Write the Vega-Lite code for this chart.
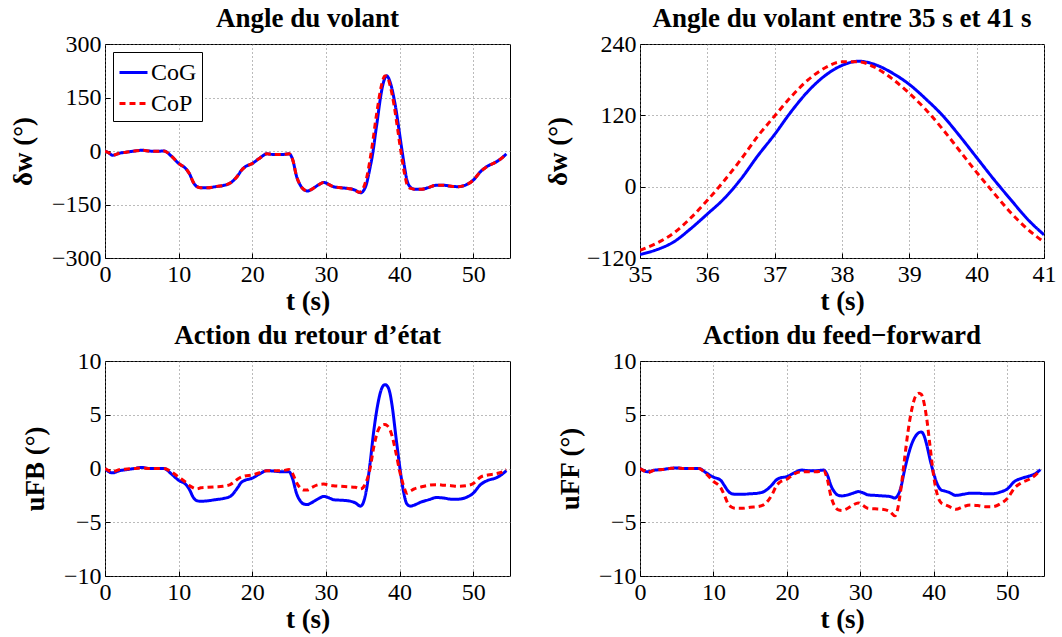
{
  "$schema": "https://vega.github.io/schema/vega-lite/v6.json",
  "background": "white",
  "padding": {"left": 8, "top": 4, "right": 12, "bottom": 2},
  "config": {
    "font": "Liberation Serif",
    "view": {"stroke": "black", "strokeWidth": 1},
    "axis": {
      "labelFont": "Liberation Serif", "labelFontSize": 24, "labelColor": "black",
      "titleFont": "Liberation Serif", "titleFontSize": 27, "titleFontWeight": "bold", "titleColor": "black",
      "grid": true, "gridColor": "#777777", "gridDash": [1, 3], "gridWidth": 1,
      "domain": false, "ticks": true, "tickSize": -5, "tickColor": "black",
      "labelPadding": 9, "labelFlush": false, "labelOverlap": false
    },
    "axisX": {"titlePadding": 2},
    "axisY": {"titlePadding": 14},
    "title": {"font": "Liberation Serif", "fontSize": 27, "fontWeight": "bold", "color": "black", "offset": -1}
  },
  "datasets": {
    "steer": [
      {"t":0,"s":"CoG","v":0},{"t":0.5,"s":"CoG","v":-5},{"t":1,"s":"CoG","v":-12},{"t":2,"s":"CoG","v":-6},{"t":3,"s":"CoG","v":-3},{"t":4,"s":"CoG","v":0},{"t":5,"s":"CoG","v":2},{"t":6,"s":"CoG","v":0},{"t":7,"s":"CoG","v":-1},{"t":8,"s":"CoG","v":0},{"t":9,"s":"CoG","v":-14},{"t":10,"s":"CoG","v":-35},{"t":11,"s":"CoG","v":-50},{"t":11.5,"s":"CoG","v":-65},{"t":12,"s":"CoG","v":-88},{"t":12.5,"s":"CoG","v":-100},{"t":13,"s":"CoG","v":-103},{"t":14,"s":"CoG","v":-103},{"t":15,"s":"CoG","v":-100},{"t":16,"s":"CoG","v":-97},{"t":17,"s":"CoG","v":-90},{"t":18,"s":"CoG","v":-70},{"t":18.5,"s":"CoG","v":-55},{"t":19,"s":"CoG","v":-45},{"t":20,"s":"CoG","v":-35},{"t":21,"s":"CoG","v":-20},{"t":22,"s":"CoG","v":-8},{"t":23,"s":"CoG","v":-10},{"t":24,"s":"CoG","v":-10},{"t":25,"s":"CoG","v":-8},{"t":25.5,"s":"CoG","v":-25},{"t":26,"s":"CoG","v":-70},{"t":26.5,"s":"CoG","v":-95},{"t":27,"s":"CoG","v":-108},{"t":27.5,"s":"CoG","v":-112},{"t":28,"s":"CoG","v":-108},{"t":29,"s":"CoG","v":-95},{"t":29.7,"s":"CoG","v":-88},{"t":30.5,"s":"CoG","v":-95},{"t":31,"s":"CoG","v":-100},{"t":32,"s":"CoG","v":-103},{"t":33,"s":"CoG","v":-105},{"t":34,"s":"CoG","v":-110},{"t":34.5,"s":"CoG","v":-116},{"t":34.8,"s":"CoG","v":-117},{"t":35,"s":"CoG","v":-114},{"t":35.25,"s":"CoG","v":-106},{"t":35.5,"s":"CoG","v":-93},{"t":35.75,"s":"CoG","v":-71},{"t":36,"s":"CoG","v":-46},{"t":36.25,"s":"CoG","v":-20},{"t":36.5,"s":"CoG","v":13},{"t":36.75,"s":"CoG","v":52},{"t":37,"s":"CoG","v":88},{"t":37.25,"s":"CoG","v":127},{"t":37.5,"s":"CoG","v":161},{"t":37.75,"s":"CoG","v":187},{"t":38,"s":"CoG","v":204},{"t":38.25,"s":"CoG","v":211},{"t":38.5,"s":"CoG","v":205},{"t":38.75,"s":"CoG","v":191},{"t":39,"s":"CoG","v":172},{"t":39.25,"s":"CoG","v":147},{"t":39.5,"s":"CoG","v":119},{"t":39.75,"s":"CoG","v":85},{"t":40,"s":"CoG","v":49},{"t":40.25,"s":"CoG","v":13},{"t":40.5,"s":"CoG","v":-21},{"t":40.75,"s":"CoG","v":-54},{"t":41,"s":"CoG","v":-81},{"t":41.5,"s":"CoG","v":-102},{"t":42,"s":"CoG","v":-107},{"t":43,"s":"CoG","v":-107},{"t":44,"s":"CoG","v":-102},{"t":45,"s":"CoG","v":-96},{"t":46,"s":"CoG","v":-96},{"t":47,"s":"CoG","v":-99},{"t":48,"s":"CoG","v":-100},{"t":49,"s":"CoG","v":-95},{"t":50,"s":"CoG","v":-82},{"t":51,"s":"CoG","v":-58},{"t":52,"s":"CoG","v":-42},{"t":53,"s":"CoG","v":-32},{"t":54,"s":"CoG","v":-18},{"t":54.5,"s":"CoG","v":-8},
      {"t":0,"s":"CoP","v":0},{"t":0.5,"s":"CoP","v":-5},{"t":1,"s":"CoP","v":-12},{"t":2,"s":"CoP","v":-6},{"t":3,"s":"CoP","v":-3},{"t":4,"s":"CoP","v":0},{"t":5,"s":"CoP","v":2},{"t":6,"s":"CoP","v":0},{"t":7,"s":"CoP","v":-1},{"t":8,"s":"CoP","v":0},{"t":9,"s":"CoP","v":-14},{"t":10,"s":"CoP","v":-35},{"t":11,"s":"CoP","v":-50},{"t":11.5,"s":"CoP","v":-65},{"t":12,"s":"CoP","v":-88},{"t":12.5,"s":"CoP","v":-100},{"t":13,"s":"CoP","v":-103},{"t":14,"s":"CoP","v":-103},{"t":15,"s":"CoP","v":-100},{"t":16,"s":"CoP","v":-97},{"t":17,"s":"CoP","v":-90},{"t":18,"s":"CoP","v":-70},{"t":18.5,"s":"CoP","v":-55},{"t":19,"s":"CoP","v":-45},{"t":20,"s":"CoP","v":-35},{"t":21,"s":"CoP","v":-20},{"t":22,"s":"CoP","v":-8},{"t":23,"s":"CoP","v":-10},{"t":24,"s":"CoP","v":-10},{"t":25,"s":"CoP","v":-8},{"t":25.5,"s":"CoP","v":-25},{"t":26,"s":"CoP","v":-70},{"t":26.5,"s":"CoP","v":-95},{"t":27,"s":"CoP","v":-108},{"t":27.5,"s":"CoP","v":-112},{"t":28,"s":"CoP","v":-108},{"t":29,"s":"CoP","v":-95},{"t":29.7,"s":"CoP","v":-88},{"t":30.5,"s":"CoP","v":-95},{"t":31,"s":"CoP","v":-100},{"t":32,"s":"CoP","v":-103},{"t":33,"s":"CoP","v":-105},{"t":34,"s":"CoP","v":-110},{"t":34.5,"s":"CoP","v":-116},{"t":34.8,"s":"CoP","v":-112},{"t":35,"s":"CoP","v":-107},{"t":35.25,"s":"CoP","v":-95},{"t":35.5,"s":"CoP","v":-78},{"t":35.75,"s":"CoP","v":-53},{"t":36,"s":"CoP","v":-23},{"t":36.25,"s":"CoP","v":10},{"t":36.5,"s":"CoP","v":46},{"t":36.75,"s":"CoP","v":85},{"t":37,"s":"CoP","v":119},{"t":37.25,"s":"CoP","v":152},{"t":37.5,"s":"CoP","v":180},{"t":37.75,"s":"CoP","v":200},{"t":38,"s":"CoP","v":210},{"t":38.25,"s":"CoP","v":210},{"t":38.5,"s":"CoP","v":200},{"t":38.75,"s":"CoP","v":181},{"t":39,"s":"CoP","v":157},{"t":39.25,"s":"CoP","v":129},{"t":39.5,"s":"CoP","v":96},{"t":39.75,"s":"CoP","v":60},{"t":40,"s":"CoP","v":24},{"t":40.25,"s":"CoP","v":-10},{"t":40.5,"s":"CoP","v":-43},{"t":40.75,"s":"CoP","v":-71},{"t":41,"s":"CoP","v":-93},{"t":41.5,"s":"CoP","v":-105},{"t":42,"s":"CoP","v":-107},{"t":43,"s":"CoP","v":-107},{"t":44,"s":"CoP","v":-102},{"t":45,"s":"CoP","v":-96},{"t":46,"s":"CoP","v":-96},{"t":47,"s":"CoP","v":-99},{"t":48,"s":"CoP","v":-100},{"t":49,"s":"CoP","v":-95},{"t":50,"s":"CoP","v":-82},{"t":51,"s":"CoP","v":-58},{"t":52,"s":"CoP","v":-42},{"t":53,"s":"CoP","v":-32},{"t":54,"s":"CoP","v":-18},{"t":54.5,"s":"CoP","v":-8}
    ],
    "act": [
      {"t":0,"s":"CoG","fb":0,"ff":0},{"t":0.5,"s":"CoG","fb":-0.3,"ff":-0.2},{"t":1,"s":"CoG","fb":-0.4,"ff":-0.3},{"t":2,"s":"CoG","fb":-0.2,"ff":-0.15},{"t":3,"s":"CoG","fb":-0.1,"ff":-0.1},{"t":4,"s":"CoG","fb":0,"ff":0},{"t":5,"s":"CoG","fb":0.1,"ff":0.05},{"t":6,"s":"CoG","fb":0,"ff":0},{"t":7,"s":"CoG","fb":0,"ff":0},{"t":8,"s":"CoG","fb":0,"ff":0},{"t":9,"s":"CoG","fb":-0.5,"ff":-0.4},{"t":10,"s":"CoG","fb":-1.1,"ff":-0.8},{"t":11,"s":"CoG","fb":-1.5,"ff":-1.1},{"t":11.5,"s":"CoG","fb":-2.0,"ff":-1.6},{"t":12,"s":"CoG","fb":-2.7,"ff":-2.1},{"t":12.5,"s":"CoG","fb":-3.0,"ff":-2.35},{"t":13,"s":"CoG","fb":-3.05,"ff":-2.4},{"t":14,"s":"CoG","fb":-3.0,"ff":-2.4},{"t":15,"s":"CoG","fb":-2.9,"ff":-2.35},{"t":16,"s":"CoG","fb":-2.8,"ff":-2.3},{"t":17,"s":"CoG","fb":-2.6,"ff":-2.1},{"t":18,"s":"CoG","fb":-1.8,"ff":-1.5},{"t":18.5,"s":"CoG","fb":-1.3,"ff":-1.1},{"t":19,"s":"CoG","fb":-1.1,"ff":-0.9},{"t":20,"s":"CoG","fb":-0.9,"ff":-0.75},{"t":21,"s":"CoG","fb":-0.5,"ff":-0.4},{"t":22,"s":"CoG","fb":-0.2,"ff":-0.15},{"t":23,"s":"CoG","fb":-0.25,"ff":-0.2},{"t":24,"s":"CoG","fb":-0.3,"ff":-0.2},{"t":25,"s":"CoG","fb":-0.3,"ff":-0.15},{"t":25.5,"s":"CoG","fb":-1.0,"ff":-0.6},{"t":26,"s":"CoG","fb":-2.3,"ff":-1.6},{"t":26.5,"s":"CoG","fb":-3.0,"ff":-2.2},{"t":27,"s":"CoG","fb":-3.3,"ff":-2.5},{"t":27.5,"s":"CoG","fb":-3.35,"ff":-2.55},{"t":28,"s":"CoG","fb":-3.2,"ff":-2.5},{"t":29,"s":"CoG","fb":-2.8,"ff":-2.3},{"t":29.7,"s":"CoG","fb":-2.6,"ff":-2.15},{"t":30.5,"s":"CoG","fb":-2.75,"ff":-2.3},{"t":31,"s":"CoG","fb":-2.9,"ff":-2.45},{"t":32,"s":"CoG","fb":-2.95,"ff":-2.5},{"t":33,"s":"CoG","fb":-3.0,"ff":-2.55},{"t":34,"s":"CoG","fb":-3.2,"ff":-2.6},{"t":34.7,"s":"CoG","fb":-3.5,"ff":-2.75},{"t":35,"s":"CoG","fb":-3.3,"ff":-2.6},{"t":35.5,"s":"CoG","fb":-2.0,"ff":-1.8},{"t":36,"s":"CoG","fb":0.5,"ff":-0.2},{"t":36.5,"s":"CoG","fb":3.5,"ff":1.2},{"t":37,"s":"CoG","fb":5.8,"ff":2.3},{"t":37.5,"s":"CoG","fb":7.3,"ff":3.0},{"t":38,"s":"CoG","fb":7.8,"ff":3.35},{"t":38.3,"s":"CoG","fb":7.7,"ff":3.4},{"t":38.7,"s":"CoG","fb":7.0,"ff":3.0},{"t":39,"s":"CoG","fb":5.8,"ff":2.3},{"t":39.5,"s":"CoG","fb":3.0,"ff":0.8},{"t":40,"s":"CoG","fb":0.3,"ff":-0.5},{"t":40.5,"s":"CoG","fb":-2.0,"ff":-1.5},{"t":41,"s":"CoG","fb":-3.3,"ff":-2.0},{"t":41.5,"s":"CoG","fb":-3.5,"ff":-2.1},{"t":42,"s":"CoG","fb":-3.4,"ff":-2.2},{"t":43,"s":"CoG","fb":-3.1,"ff":-2.5},{"t":44,"s":"CoG","fb":-2.9,"ff":-2.4},{"t":45,"s":"CoG","fb":-2.7,"ff":-2.3},{"t":46,"s":"CoG","fb":-2.75,"ff":-2.3},{"t":47,"s":"CoG","fb":-2.85,"ff":-2.35},{"t":48,"s":"CoG","fb":-2.85,"ff":-2.35},{"t":49,"s":"CoG","fb":-2.7,"ff":-2.2},{"t":50,"s":"CoG","fb":-2.3,"ff":-1.9},{"t":51,"s":"CoG","fb":-1.5,"ff":-1.2},{"t":52,"s":"CoG","fb":-1.1,"ff":-0.9},{"t":53,"s":"CoG","fb":-0.9,"ff":-0.7},{"t":54,"s":"CoG","fb":-0.5,"ff":-0.4},{"t":54.5,"s":"CoG","fb":-0.2,"ff":-0.1},
      {"t":0,"s":"CoP","fb":0,"ff":0},{"t":0.5,"s":"CoP","fb":-0.2,"ff":-0.2},{"t":1,"s":"CoP","fb":-0.3,"ff":-0.4},{"t":2,"s":"CoP","fb":-0.1,"ff":-0.15},{"t":3,"s":"CoP","fb":-0.05,"ff":-0.1},{"t":4,"s":"CoP","fb":0,"ff":0},{"t":5,"s":"CoP","fb":0.05,"ff":0.05},{"t":6,"s":"CoP","fb":0,"ff":0},{"t":7,"s":"CoP","fb":0,"ff":0},{"t":8,"s":"CoP","fb":0,"ff":0},{"t":9,"s":"CoP","fb":-0.3,"ff":-0.5},{"t":10,"s":"CoP","fb":-0.8,"ff":-1.2},{"t":11,"s":"CoP","fb":-1.3,"ff":-1.8},{"t":11.5,"s":"CoP","fb":-1.6,"ff":-2.5},{"t":12,"s":"CoP","fb":-1.8,"ff":-3.3},{"t":12.5,"s":"CoP","fb":-1.9,"ff":-3.6},{"t":13,"s":"CoP","fb":-1.8,"ff":-3.7},{"t":14,"s":"CoP","fb":-1.75,"ff":-3.7},{"t":15,"s":"CoP","fb":-1.7,"ff":-3.6},{"t":16,"s":"CoP","fb":-1.65,"ff":-3.55},{"t":17,"s":"CoP","fb":-1.5,"ff":-3.3},{"t":18,"s":"CoP","fb":-1.0,"ff":-2.4},{"t":18.5,"s":"CoP","fb":-0.8,"ff":-1.7},{"t":19,"s":"CoP","fb":-0.7,"ff":-1.3},{"t":20,"s":"CoP","fb":-0.6,"ff":-1.0},{"t":21,"s":"CoP","fb":-0.4,"ff":-0.5},{"t":22,"s":"CoP","fb":-0.2,"ff":-0.3},{"t":23,"s":"CoP","fb":-0.2,"ff":-0.3},{"t":24,"s":"CoP","fb":-0.2,"ff":-0.3},{"t":25,"s":"CoP","fb":-0.1,"ff":-0.2},{"t":25.5,"s":"CoP","fb":-0.5,"ff":-1.0},{"t":26,"s":"CoP","fb":-1.3,"ff":-2.6},{"t":26.5,"s":"CoP","fb":-1.8,"ff":-3.5},{"t":27,"s":"CoP","fb":-2.0,"ff":-3.85},{"t":27.5,"s":"CoP","fb":-2.0,"ff":-3.9},{"t":28,"s":"CoP","fb":-1.8,"ff":-3.8},{"t":29,"s":"CoP","fb":-1.5,"ff":-3.4},{"t":29.7,"s":"CoP","fb":-1.45,"ff":-3.2},{"t":30.5,"s":"CoP","fb":-1.55,"ff":-3.5},{"t":31,"s":"CoP","fb":-1.6,"ff":-3.7},{"t":32,"s":"CoP","fb":-1.65,"ff":-3.75},{"t":33,"s":"CoP","fb":-1.7,"ff":-3.8},{"t":34,"s":"CoP","fb":-1.75,"ff":-4.0},{"t":34.7,"s":"CoP","fb":-1.9,"ff":-4.4},{"t":35,"s":"CoP","fb":-1.8,"ff":-4.0},{"t":35.5,"s":"CoP","fb":-1.2,"ff":-2.0},{"t":36,"s":"CoP","fb":0,"ff":0.8},{"t":36.5,"s":"CoP","fb":2.0,"ff":3.5},{"t":37,"s":"CoP","fb":3.4,"ff":5.5},{"t":37.5,"s":"CoP","fb":4.0,"ff":6.7},{"t":38,"s":"CoP","fb":4.1,"ff":7.0},{"t":38.3,"s":"CoP","fb":4.0,"ff":6.9},{"t":38.7,"s":"CoP","fb":3.6,"ff":6.0},{"t":39,"s":"CoP","fb":3.0,"ff":4.8},{"t":39.5,"s":"CoP","fb":1.5,"ff":2.0},{"t":40,"s":"CoP","fb":-0.2,"ff":-0.8},{"t":40.5,"s":"CoP","fb":-1.5,"ff":-2.5},{"t":41,"s":"CoP","fb":-2.3,"ff":-3.2},{"t":41.5,"s":"CoP","fb":-2.1,"ff":-3.35},{"t":42,"s":"CoP","fb":-1.9,"ff":-3.5},{"t":43,"s":"CoP","fb":-1.7,"ff":-3.8},{"t":44,"s":"CoP","fb":-1.55,"ff":-3.55},{"t":45,"s":"CoP","fb":-1.5,"ff":-3.4},{"t":46,"s":"CoP","fb":-1.55,"ff":-3.45},{"t":47,"s":"CoP","fb":-1.6,"ff":-3.55},{"t":48,"s":"CoP","fb":-1.65,"ff":-3.55},{"t":49,"s":"CoP","fb":-1.6,"ff":-3.3},{"t":50,"s":"CoP","fb":-1.4,"ff":-2.8},{"t":51,"s":"CoP","fb":-0.8,"ff":-1.8},{"t":52,"s":"CoP","fb":-0.6,"ff":-1.3},{"t":53,"s":"CoP","fb":-0.5,"ff":-1.0},{"t":54,"s":"CoP","fb":-0.3,"ff":-0.5},{"t":54.5,"s":"CoP","fb":-0.1,"ff":-0.15}
    ]
  },
  "columns": 2,
  "spacing": {"row": 103, "column": 130},
  "bounds": "flush",
  "resolve": {"legend": {"color": "independent", "strokeDash": "independent"}},
  "concat": [
    {
      "title": "Angle du volant",
      "width": 405, "height": 214,
      "data": {"name": "steer"},
      "mark": {"type": "line", "strokeWidth": 3, "interpolate": "monotone", "clip": true},
      "encoding": {
        "x": {"field": "t", "type": "quantitative", "scale": {"domain": [0, 55], "nice": false}, "axis": {"title": "t (s)", "values": [0, 10, 20, 30, 40, 50]}},
        "y": {"field": "v", "type": "quantitative", "scale": {"domain": [-300, 300], "nice": false}, "axis": {"title": "δw (°)", "values": [-300, -150, 0, 150, 300]}},
        "color": {"field": "s", "type": "nominal", "scale": {"domain": ["CoG", "CoP"], "range": ["#0000ff", "#ff0000"]},
          "legend": {"orient": "top-left", "title": null, "strokeColor": "black", "fillColor": "white", "padding": 5, "offset": 8, "labelFont": "Liberation Serif", "labelFontSize": 24, "labelColor": "black", "symbolType": "stroke", "symbolSize": 784, "symbolStrokeWidth": 3, "rowPadding": 3, "labelOffset": 2}},
        "strokeDash": {"field": "s", "type": "nominal", "scale": {"domain": ["CoG", "CoP"], "range": [[1, 0], [6, 4]]},
          "legend": {"orient": "top-left", "title": null, "strokeColor": "black", "fillColor": "white", "padding": 5, "offset": 8, "labelFont": "Liberation Serif", "labelFontSize": 24, "labelColor": "black", "symbolType": "stroke", "symbolSize": 784, "symbolStrokeWidth": 3, "rowPadding": 3, "labelOffset": 2}}
      }
    },
    {
      "title": "Angle du volant entre 35 s et 41 s",
      "width": 404, "height": 214,
      "data": {"name": "steer"},
      "transform": [{"filter": "datum.t >= 35 && datum.t <= 41"}],
      "mark": {"type": "line", "strokeWidth": 3, "interpolate": "monotone", "clip": true},
      "encoding": {
        "x": {"field": "t", "type": "quantitative", "scale": {"domain": [35, 41], "nice": false}, "axis": {"title": "t (s)", "values": [35, 36, 37, 38, 39, 40, 41]}},
        "y": {"field": "v", "type": "quantitative", "scale": {"domain": [-120, 240], "nice": false}, "axis": {"title": "δw (°)", "values": [-120, 0, 120, 240]}},
        "color": {"field": "s", "type": "nominal", "scale": {"domain": ["CoG", "CoP"], "range": ["#0000ff", "#ff0000"]}, "legend": null},
        "strokeDash": {"field": "s", "type": "nominal", "scale": {"domain": ["CoG", "CoP"], "range": [[1, 0], [6, 4]]}, "legend": null}
      }
    },
    {
      "title": "Action du retour d’état",
      "width": 405, "height": 215,
      "data": {"name": "act"},
      "mark": {"type": "line", "strokeWidth": 3, "interpolate": "monotone", "clip": true},
      "encoding": {
        "x": {"field": "t", "type": "quantitative", "scale": {"domain": [0, 55], "nice": false}, "axis": {"title": "t (s)", "values": [0, 10, 20, 30, 40, 50]}},
        "y": {"field": "fb", "type": "quantitative", "scale": {"domain": [-10, 10], "nice": false}, "axis": {"title": "uFB (°)", "values": [-10, -5, 0, 5, 10]}},
        "color": {"field": "s", "type": "nominal", "scale": {"domain": ["CoG", "CoP"], "range": ["#0000ff", "#ff0000"]}, "legend": null},
        "strokeDash": {"field": "s", "type": "nominal", "scale": {"domain": ["CoG", "CoP"], "range": [[1, 0], [6, 4]]}, "legend": null}
      }
    },
    {
      "title": "Action du feed−forward",
      "width": 404, "height": 215,
      "data": {"name": "act"},
      "mark": {"type": "line", "strokeWidth": 3, "interpolate": "monotone", "clip": true},
      "encoding": {
        "x": {"field": "t", "type": "quantitative", "scale": {"domain": [0, 55], "nice": false}, "axis": {"title": "t (s)", "values": [0, 10, 20, 30, 40, 50]}},
        "y": {"field": "ff", "type": "quantitative", "scale": {"domain": [-10, 10], "nice": false}, "axis": {"title": "uFF (°)", "values": [-10, -5, 0, 5, 10]}},
        "color": {"field": "s", "type": "nominal", "scale": {"domain": ["CoG", "CoP"], "range": ["#0000ff", "#ff0000"]}, "legend": null},
        "strokeDash": {"field": "s", "type": "nominal", "scale": {"domain": ["CoG", "CoP"], "range": [[1, 0], [6, 4]]}, "legend": null}
      }
    }
  ]
}
